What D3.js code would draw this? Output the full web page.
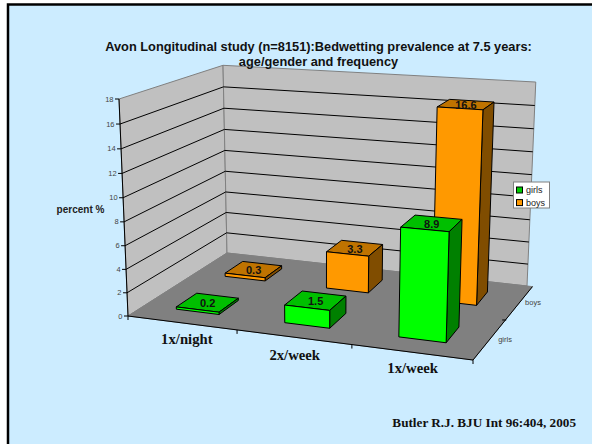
<!DOCTYPE html>
<html>
<head>
<meta charset="utf-8">
<script src="https://cdn.jsdelivr.net/npm/d3@7"></script>
<style>
  html, body { margin: 0; padding: 0; background: #fff; }
  svg { display: block; }
  text { font-family: "Liberation Sans", Arial, sans-serif; }
  .serif { font-family: "Liberation Serif", "Times New Roman", serif; font-weight: bold; fill: #111; }
</style>
</head>
<body>
<svg id="chart" width="592" height="444"></svg>
<script>
var categories = ["1x/night", "2x/week", "1x/week"];
var seriesNames = ["girls", "boys"];
var girls = [0.2, 1.5, 8.9];
var boys = [0.3, 3.3, 16.6];
var yTicks = [0, 2, 4, 6, 8, 10, 12, 14, 16, 18];

var svg = d3.select("#chart");

svg.append("rect").attr("x", 8).attr("y", 4.5).attr("width", 600).attr("height", 460)
  .attr("fill", "#ccecff").attr("stroke", "#000").attr("stroke-width", 2.5);

// floor corners of the 3d box as seen on the slide (front left, front right, back right, back left)
var floorCorners = [[128, 316], [473, 360], [527, 286], [227, 253]];
var roofFrontLeft = [119, 99];
var depthFade = -0.042; // how much the box shrinks going up

// floor homography, extended upwards with the roof corner so all three axes share one camera
function makeCamera(q, top, i) {
  var x0 = q[0][0], y0 = q[0][1], x1 = q[1][0], y1 = q[1][1], x2 = q[2][0], y2 = q[2][1], x3 = q[3][0], y3 = q[3][1];
  var dx1 = x1 - x2, dx2 = x3 - x2, sx = x0 - x1 + x2 - x3;
  var dy1 = y1 - y2, dy2 = y3 - y2, sy = y0 - y1 + y2 - y3;
  var det = dx1 * dy2 - dx2 * dy1;
  var g = (sx * dy2 - dx2 * sy) / det, h = (dx1 * sy - sx * dy1) / det;
  var a = x1 - x0 + g * x1, b = x3 - x0 + h * x3, d = y1 - y0 + g * y1, e = y3 - y0 + h * y3;
  var c = top[0] * (1 + i) - x0, f = top[1] * (1 + i) - y0;
  return function(u, v, t) {
    var w = g * u + h * v + i * t + 1;
    // small correction so the far right corner lands where it does on the slide
    return [(a * u + b * v + c * t + x0) / w + u * t, (d * u + e * v + f * t + y0) / w - 4 * u * t];
  };
}
var camera = makeCamera(floorCorners, roofFrontLeft, depthFade);

var xBand = d3.scaleBand().domain(categories).range([0, 1]).paddingInner(0.6).paddingOuter(0.3);
var zBand = d3.scaleBand().domain(seriesNames).range([0, 1]).paddingInner(0.6).paddingOuter(0.3);
var xAxisPos = d3.scaleBand().domain(categories).range([0, 1]);
var zAxisPos = d3.scaleBand().domain(seriesNames).range([0, 1]);
var yScale = d3.scaleLinear().domain([0, 18]).range([0, 1]);

function project(u, v, val) {
  return camera(u, v, yScale(val));
}

var line = d3.line();
function poly(pts, fill, stroke, sw) {
  return svg.append("path").attr("d", line(pts) + "Z")
    .attr("fill", fill).attr("stroke", stroke).attr("stroke-width", sw)
    .attr("stroke-linejoin", "round");
}

// walls and floor
poly([project(0, 0, 0), project(0, 1, 0), project(0, 1, 18), project(0, 0, 18)], "#c0c0c0", "#808080", 1);
poly([project(0, 1, 0), project(1, 1, 0), project(1, 1, 18), project(0, 1, 18)], "#c0c0c0", "#808080", 1);
var floorBackRight = project(1.017, 1, 0); // floor plate sticks out past the wall
poly([project(0, 0, 0), project(1, 0, 0), floorBackRight, project(0, 1, 0)], "#808080", "#808080", 1);

// gridlines
yTicks.slice(1, -1).forEach(function(t) {
  svg.append("path").attr("d", line([project(0, 0, t), project(0, 1, t), project(1, 1, t)]))
    .attr("fill", "none").attr("stroke", "#000").attr("stroke-width", 1);
});

// axes
svg.append("path").attr("d", line([project(0, 0, 18), project(0, 0, 0), project(1, 0, 0), floorBackRight]))
  .attr("fill", "none").attr("stroke", "#000").attr("stroke-width", 1);

yTicks.forEach(function(t) {
  var p = project(0, 0, t);
  svg.append("line").attr("x1", p[0] - 4).attr("x2", p[0]).attr("y1", p[1]).attr("y2", p[1]).attr("stroke", "#000");
  svg.append("text").attr("x", p[0] - 5.5).attr("y", p[1] + 2.5).attr("text-anchor", "end")
    .attr("font-size", 7.5).attr("fill", "#444").text(t);
});

// tick marks between the categories and the rows
[0, 1 / 3, 2 / 3, 1].forEach(function(u) {
  var p = project(u, 0, 0);
  svg.append("line").attr("x1", p[0]).attr("x2", p[0]).attr("y1", p[1]).attr("y2", p[1] + 4).attr("stroke", "#000");
});
[0.5].forEach(function(v) {
  var p = project(1, v, 0);
  svg.append("line").attr("x1", p[0]).attr("x2", p[0] + 4).attr("y1", p[1]).attr("y2", p[1]).attr("stroke", "#000");
});

// category labels
categories.forEach(function(c, i) {
  var p = project(xAxisPos(c) + xAxisPos.bandwidth() / 2, 0, 0);
  var dx = i === 0 ? 5 : 1, dy = i === 1 ? 23 : 21;
  svg.append("text").attr("class", "serif").attr("x", p[0] + dx).attr("y", p[1] + dy)
    .attr("text-anchor", "middle").attr("font-size", 14.7).text(c);
});
seriesNames.forEach(function(s) {
  var p = project(1, zAxisPos(s) + zAxisPos.bandwidth() / 2, 0);
  svg.append("text").attr("x", p[0] + 10).attr("y", p[1] + 2.5)
    .attr("font-size", 7.5).attr("fill", "#444").text(s);
});

// bars
var colors = {
  girls: { front: "#00ff00", top: "#00bf00", side: "#008000", key: "#00cc00" },
  boys: { front: "#ff9900", top: "#bf7300", side: "#804d00", key: "#ff9900" }
};
function drawBar(cat, name, val) {
  var u0 = xBand(cat), u1 = u0 + xBand.bandwidth();
  var v0 = zBand(name), v1 = v0 + zBand.bandwidth();
  var c = colors[name];
  poly([project(u0, v0, val), project(u1, v0, val), project(u1, v1, val), project(u0, v1, val)], c.top, "#000", 1);
  poly([project(u1, v0, 0), project(u1, v1, 0), project(u1, v1, val), project(u1, v0, val)], c.side, "#000", 1);
  poly([project(u0, v0, 0), project(u1, v0, 0), project(u1, v0, val), project(u0, v0, val)], c.front, "#000", 1);
  var m = project((u0 + u1) / 2, (v0 + v1) / 2, val);
  svg.append("text").attr("x", m[0]).attr("y", m[1] + 4.7).attr("text-anchor", "middle")
    .attr("font-size", 11).attr("font-weight", "bold").attr("fill", "#111").text(val.toFixed(1));
}
categories.forEach(function(c, i) { drawBar(c, "boys", boys[i]); });
categories.forEach(function(c, i) { drawBar(c, "girls", girls[i]); });

// titles
svg.append("text").attr("x", 318.5).attr("y", 50.5).attr("text-anchor", "middle")
  .attr("font-size", 12.8).attr("font-weight", "bold").attr("fill", "#111")
  .text("Avon Longitudinal study (n=8151):Bedwetting prevalence at 7.5 years:");
svg.append("text").attr("x", 318.5).attr("y", 65.5).attr("text-anchor", "middle")
  .attr("font-size", 12.8).attr("font-weight", "bold").attr("fill", "#111")
  .text("age/gender and frequency");
svg.append("text").attr("x", 80.5).attr("y", 213).attr("text-anchor", "middle")
  .attr("font-size", 10).attr("font-weight", "bold").attr("fill", "#222").text("percent %");
svg.append("text").attr("class", "serif").attr("x", 576).attr("y", 427).attr("text-anchor", "end")
  .attr("font-size", 13.2).text("Butler R.J. BJU Int 96:404, 2005");

// legend
svg.append("rect").attr("x", 513.5).attr("y", 182).attr("width", 36).attr("height", 26)
  .attr("fill", "#fff").attr("stroke", "#808080");
seriesNames.forEach(function(s, i) {
  var y = 187 + i * 12.6;
  svg.append("rect").attr("x", 516.5).attr("y", y).attr("width", 6).attr("height", 6)
    .attr("fill", colors[s].key).attr("stroke", "#000");
  svg.append("text").attr("x", 526).attr("y", y + 6.3).attr("font-size", 9).attr("fill", "#222").text(s);
});
</script>
</body>
</html>
